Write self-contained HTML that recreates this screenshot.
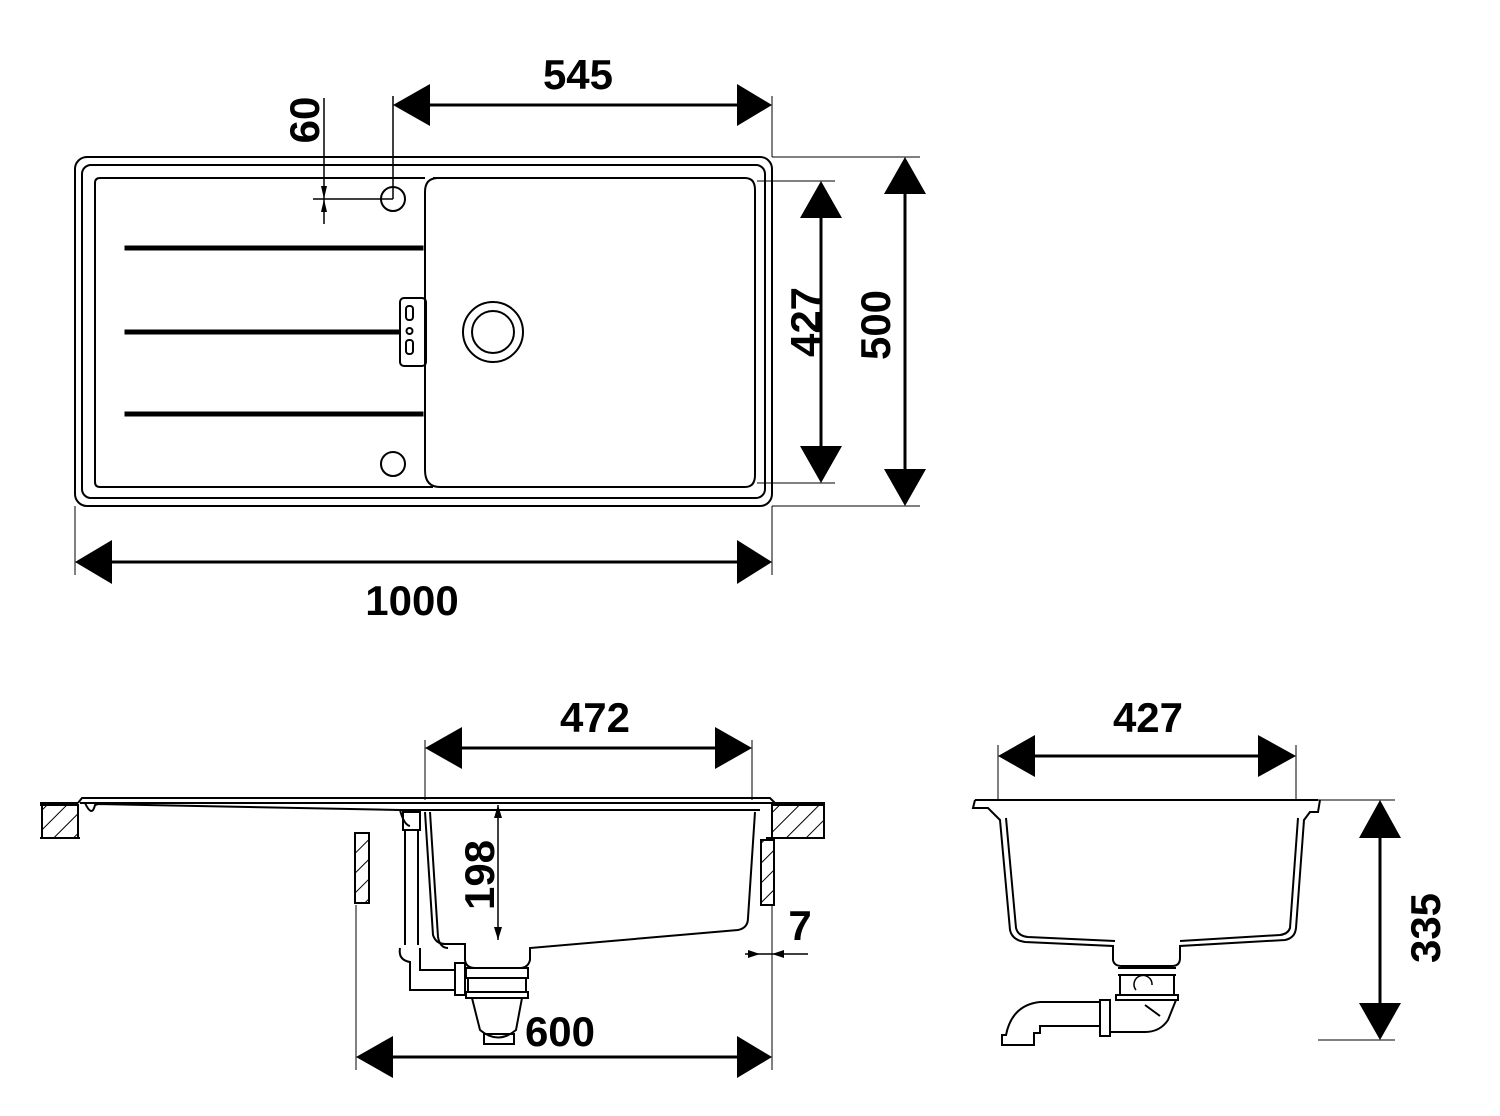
<!DOCTYPE html>
<html><head><style>
html,body{margin:0;padding:0;background:#fff;width:1500px;height:1116px;overflow:hidden}
svg text{font-family:"Liberation Sans",Arial,sans-serif;font-weight:bold;font-size:42px;fill:#000}
</style></head><body>
<svg width="1500" height="1116" viewBox="0 0 1500 1116" xmlns="http://www.w3.org/2000/svg">
<defs>
<pattern id="h" width="14" height="14" patternUnits="userSpaceOnUse" patternTransform="rotate(45)">
<line x1="0" y1="0" x2="0" y2="14" stroke="#000" stroke-width="2"/></pattern>
</defs>
<g fill="none" stroke="#000" stroke-width="2">
<!-- top view -->
<rect x="75" y="157" width="697" height="349" rx="12"/>
<rect x="82" y="165" width="683" height="333" rx="9"/>
<path d="M100 178 H425 M100 487 H433 M100 178 Q95 178 95 183 V482 Q95 487 100 487"/>
<path d="M433 178 H745 Q755 178 755 190 V475 Q755 487 745 487 H440 Q425 487 425 470 V192 Q425 178 438 178"/>
<rect x="125" y="246" width="298" height="4" fill="#000" stroke-width="1"/>
<rect x="125" y="330" width="275" height="4" fill="#000" stroke-width="1"/>
<rect x="125" y="412" width="298" height="4" fill="#000" stroke-width="1"/>
<rect x="400" y="298" width="26" height="68" rx="4"/>
<rect x="406" y="306" width="7" height="14" rx="3"/><circle cx="409.5" cy="331" r="3"/><rect x="406" y="340" width="7" height="14" rx="3"/>
<circle cx="493" cy="332" r="30"/><circle cx="493" cy="332" r="21"/>
<circle cx="393" cy="199" r="12"/><circle cx="393" cy="464" r="12"/>
<path d="M393 96 V199 M313 199 H393 M324 98 V224" stroke-width="1.5"/>
<path d="M772 96 V157 M75 506 V575 M772 506 V575" stroke-width="1"/>
<path d="M772 157 H920 M772 506 H920 M757 181 H835 M757 483 H835" stroke-width="1"/>
<path d="M430 105 H737 M112 562 H737 M821 218 V446 M905 194 V469" stroke-width="3"/>
<!-- side section -->
<path d="M40 803 H78 M770 803 H825"/>
<rect x="42" y="805" width="36" height="33" fill="url(#h)"/>
<rect x="772" y="805" width="52" height="33" fill="url(#h)"/>
<path d="M40 838 H80 M766 838 H825 M40 805 H78"/>
<rect x="355" y="833" width="14" height="70" fill="url(#h)"/>
<rect x="761" y="840" width="13" height="65" fill="url(#h)"/>
<path d="M78 803 L82 798 H770 L775 803 H80 M85 803 Q92 818 95 805 L98 804 L400 810 H425 M400 810 Q404 825 410 826"/>
<path d="M422 810 H760 M425 812 L433 935 Q436 944 445 944 H465 V960 Q466 968 475 968 H520 Q528 968 530 960 V948 L738 930 Q748 928 748 918 L755 812"/>
<path d="M430 812 L438 937 Q440 948 448 948"/>
<path d="M403 812 H420 V830 H403 Z M405 830 V945 M418 830 V945 M400 948 Q398 960 410 962 V990 H455 M420 948 V970 H455"/>
<path d="M455 963 H465 V995 H455 Z M466 968 H528 V978 H466 Z M468 978 H526 V992 H468 Z M466 992 H528 V998 H466 Z"/>
<path d="M472 998 L480 1030 Q498 1045 516 1030 L522 998 M484 1034 H514 V1044 H484 Z"/>
<path d="M356 905 V1070 M772 905 V1070 M772 935 V965" stroke-width="1"/>
<path d="M425 740 V800 M752 740 V800 M998 745 V800 M1296 745 V800 M1318 800 H1395 M1318 1040 H1395" stroke-width="1"/>
<path d="M462 748 H715 M1035 756 H1258 M1380 838 V1003 M393 1057 H737" stroke-width="3"/>
<path d="M498 805 V940" stroke-width="1.5"/>
<path d="M745 954 H808 M745 954 L770 954" stroke-width="1.5"/>
<!-- front section -->
<path d="M975 800 H1318 M975 800 L973 808 H988 L995 815 L1000 820 L1010 930 Q1012 940 1025 942 L1113 946 V960 Q1114 966 1122 966 H1172 Q1180 966 1180 958 V946 L1285 940 Q1295 938 1296 928 L1304 820 L1310 812 H1318 L1320 800"/>
<path d="M1006 818 L1016 928 Q1018 936 1028 937 L1115 941 M1298 818 L1290 928 Q1288 934 1280 935 L1180 941"/>
<path d="M1118 968 H1176 M1118 975 H1176 M1120 975 V995 M1174 975 V995 M1116 995 H1178 V1000 H1116 Z"/>
<path d="M1176 1000 L1168 1020 Q1160 1032 1145 1032 H1110 M1160 1016 L1145 1005 M1100 1000 H1110 V1036 H1100 Z M1100 1002 H1040 Q1012 1005 1006 1035 H1002 V1045 H1034 V1033 H1040 V1026 H1100"/>
<path d="M1136 990 A9 9 0 1 1 1152 985" stroke-width="1.5"/>
</g>
<g fill="#000">
<polygon points="393,105 430,84 430,126"/><polygon points="772,105 737,84 737,126"/>
<polygon points="75,562 112,540 112,584"/><polygon points="772,562 737,540 737,584"/>
<polygon points="821,181 800,218 842,218"/><polygon points="821,483 800,446 842,446"/>
<polygon points="905,157 884,194 926,194"/><polygon points="905,506 884,469 926,469"/>
<polygon points="324,199 321,186 327,186"/><polygon points="324,199 321,212 327,212"/>
<polygon points="425,748 462,727 462,769"/><polygon points="752,748 715,727 715,769"/>
<polygon points="998,756 1035,735 1035,777"/><polygon points="1296,756 1258,735 1258,777"/>
<polygon points="1380,800 1359,838 1401,838"/><polygon points="1380,1040 1359,1003 1401,1003"/>
<polygon points="356,1057 393,1036 393,1078"/><polygon points="772,1057 737,1036 737,1078"/>
<polygon points="498,805 494,818 502,818"/><polygon points="498,940 494,927 502,927"/>
<polygon points="760,954 748,950 748,958"/><polygon points="772,954 784,950 784,958"/>
</g>
<text x="578" y="89" text-anchor="middle">545</text>
<text x="412" y="615" text-anchor="middle">1000</text>
<text transform="translate(319,120) rotate(-90)" text-anchor="middle">60</text>
<text transform="translate(820,322) rotate(-90)" text-anchor="middle">427</text>
<text transform="translate(890,325) rotate(-90)" text-anchor="middle">500</text>
<text x="595" y="732" text-anchor="middle">472</text>
<text x="1148" y="732" text-anchor="middle">427</text>
<text transform="translate(1440,928) rotate(-90)" text-anchor="middle">335</text>
<text transform="translate(494,875) rotate(-90)" text-anchor="middle">198</text>
<text x="560" y="1046" text-anchor="middle">600</text>
<text x="800" y="940" text-anchor="middle">7</text>
</svg>
</body></html>
